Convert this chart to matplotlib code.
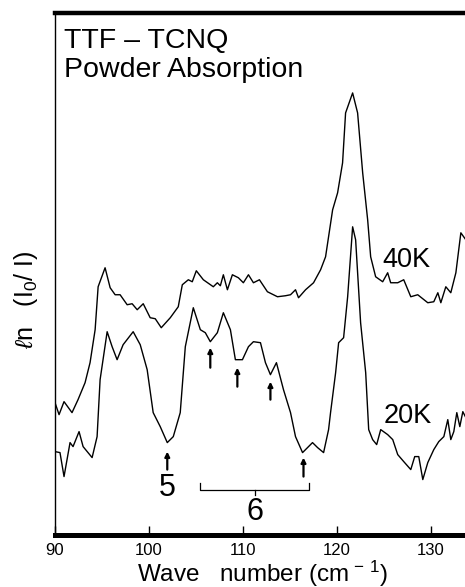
import matplotlib
matplotlib.use("Agg")
import matplotlib.pyplot as plt

plt.rcParams['font.family'] = ['Liberation Sans', 'DejaVu Sans']
plt.rcParams['mathtext.fontset'] = 'custom'
plt.rcParams['mathtext.rm'] = 'Liberation Sans'
plt.rcParams['mathtext.it'] = 'Liberation Sans:italic'

# 40K spectrum (wave number cm-1, ln(I0/I) arbitrary units)
wn_40 = [90.0, 90.43, 90.96, 91.81, 92.45, 93.2, 93.73, 94.27, 94.59, 95.33,
         95.87, 96.4, 96.93, 97.68, 98.21, 98.75, 99.39, 100.13, 100.67, 101.31,
         102.27, 103.12, 103.55, 104.19, 104.61, 105.04, 105.79, 106.85, 107.28, 107.6,
         107.92, 108.35, 108.88, 109.52, 110.05, 110.59, 111.12, 111.76, 112.61, 113.68,
         114.53, 115.07, 115.6, 115.92, 116.67, 117.52, 118.27, 118.8, 119.55, 120.08,
         120.61, 120.93, 121.68, 122.21, 122.75, 123.28, 123.6, 124.13, 124.88, 125.41,
         125.73, 126.48, 127.12, 127.87, 128.61, 129.68, 130.32, 130.75, 131.07, 131.6,
         132.13, 132.67, 133.2, 133.73]
abs_40 = [1.32, 1.20, 1.33, 1.22, 1.35, 1.52, 1.72, 2.05, 2.48, 2.67,
          2.47, 2.40, 2.40, 2.30, 2.31, 2.25, 2.31, 2.17, 2.16, 2.07,
          2.17, 2.28, 2.50, 2.55, 2.53, 2.64, 2.55, 2.48, 2.52, 2.49,
          2.60, 2.45, 2.60, 2.57, 2.52, 2.60, 2.52, 2.55, 2.43, 2.38,
          2.39, 2.40, 2.45, 2.37, 2.45, 2.52, 2.65, 2.78, 3.25, 3.42,
          3.72, 4.22, 4.42, 4.22, 3.62, 3.15, 2.78, 2.58, 2.53, 2.62,
          2.52, 2.52, 2.55, 2.38, 2.40, 2.32, 2.33, 2.42, 2.32, 2.48,
          2.42, 2.62, 3.02, 2.95]

# 20K spectrum
wn_20 = [90.0, 90.53, 90.96, 91.28, 91.6, 91.92, 92.56, 92.99, 93.95, 94.48,
         94.8, 95.55, 96.08, 96.61, 97.25, 98.32, 99.07, 99.81, 100.45, 101.2,
         101.95, 102.59, 103.33, 103.87, 104.72, 105.47, 106.0, 106.53, 107.28, 107.92,
         108.67, 109.2, 109.95, 110.59, 111.12, 111.87, 112.4, 112.93, 113.57, 114.32,
         115.07, 115.6, 116.35, 116.88, 117.41, 117.95, 118.59, 119.12, 119.33, 119.87,
         120.19, 120.72, 121.15, 121.68, 122.0, 122.53, 123.07, 123.39, 123.81, 124.24,
         124.67, 125.41, 125.95, 126.48, 127.12, 127.87, 128.29, 128.72, 129.15, 129.68,
         130.32, 130.85, 131.39, 131.81, 132.13, 132.45, 132.77, 133.09, 133.41, 133.73]
abs_20 = [0.83, 0.82, 0.58, 0.75, 0.92, 0.88, 1.03, 0.88, 0.77, 0.98,
          1.55, 2.03, 1.88, 1.75, 1.90, 2.03, 1.90, 1.65, 1.22, 1.08,
          0.92, 0.98, 1.22, 1.88, 2.27, 2.05, 2.02, 1.93, 2.02, 2.22,
          2.05, 1.75, 1.75, 1.88, 1.93, 1.92, 1.72, 1.60, 1.72, 1.45,
          1.22, 0.98, 0.82, 0.87, 0.92, 0.87, 0.82, 1.05, 1.22, 1.62,
          1.92, 1.97, 2.38, 3.08, 2.95, 2.12, 1.62, 1.05, 0.95, 0.90,
          1.05, 1.00, 0.95, 0.80, 0.73, 0.65, 0.78, 0.78, 0.55, 0.72,
          0.85, 0.93, 0.98, 1.15, 0.95, 1.03, 1.22, 1.08, 1.23, 1.17]

# assigned dips: (position, arrow tail, arrow head)
arrow_5 = [(101.95, 0.65, 0.83)]
arrows_6 = [(106.53, 1.67, 1.87), (109.41, 1.48, 1.67),
            (112.93, 1.35, 1.53), (116.45, 0.58, 0.77)]

fig = plt.figure(figsize=(4.65, 5.87), dpi=100)
ax = fig.add_axes([0.1183, 0.0894, 0.895, 0.8893])

ax.plot(wn_40, abs_40, color='k', lw=1.0)
ax.plot(wn_20, abs_20, color='k', lw=1.0)

for x, y0, y1 in arrow_5 + arrows_6:
    ax.annotate('', xy=(x, y1), xytext=(x, y0),
                arrowprops=dict(arrowstyle='-|>', color='k', lw=1.6,
                                mutation_scale=7, shrinkA=0, shrinkB=0))

ax.text(101.95, 0.47, '5', fontsize=22, ha='center', va='center')

# bracket for band 6
bx0, bx1, by = 105.46, 117.08, 0.45
ax.plot([bx0, bx0, bx1, bx1], [0.52, by, by, 0.52], color='k', lw=0.9)
ax.plot([111.3, 111.3], [by, 0.40], color='k', lw=0.9)
ax.text(111.3, 0.23, '6', fontsize=22, ha='center', va='center')

ax.text(90.96, 4.87, 'TTF – TCNQ', fontsize=20.5, ha='left', va='baseline')
ax.text(90.96, 4.58, 'Powder Absorption', fontsize=20.5, ha='left', va='baseline')
ax.text(124.88, 2.68, '40K', fontsize=19.5, ha='left', va='baseline')
ax.text(124.99, 1.12, '20K', fontsize=19.5, ha='left', va='baseline')

ax.set_xlim(90, 134.3)
ax.set_ylim(0, 5.225)
ax.set_xticks([90, 100, 110, 120, 130])
ax.set_yticks([])
ax.tick_params(axis='x', direction='in', length=6.5, width=1, labelsize=12, pad=6)

ax.spines['right'].set_visible(False)
ax.spines['top'].set_linewidth(3.2)
ax.spines['bottom'].set_linewidth(3.6)
ax.spines['left'].set_linewidth(1.0)

fig.text(0.055, 0.49, r'$\ell$n   (I$_0$/ I)', fontsize=18, rotation=90,
         ha='center', va='center', family=['Liberation Sans', 'DejaVu Sans'])
fig.text(0.565, 0.0095, r'Wave   number (cm$^{\,-\,1}$)', fontsize=17.5,
         ha='center', va='baseline')

fig.savefig('out.png', dpi=100)
